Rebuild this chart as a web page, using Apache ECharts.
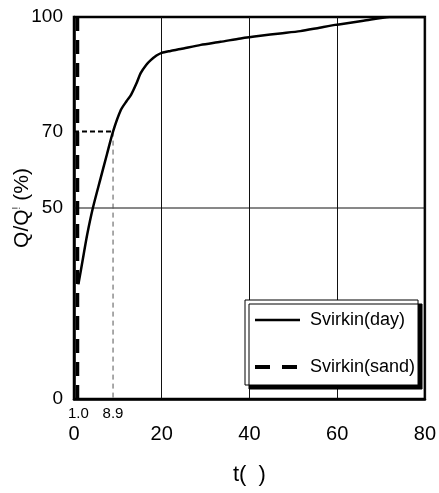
<!DOCTYPE html>
<html>
<head>
<meta charset="utf-8">
<script src="https://cdn.jsdelivr.net/npm/echarts@6/dist/echarts.min.js"></script>
<style>html,body{margin:0;padding:0;background:#fff;}#c{width:439px;height:493px;}</style>
</head>
<body>
<div id="c"></div>
<script>
// ---- data ----
const dayT = [1.0, 2.0, 3.0, 4.3, 6.0, 7.5, 8.9, 10.7, 12.0, 13.0, 14.2, 15.2, 16.5, 17.5, 18.8, 20, 22, 24.3, 28.9, 33.4, 38, 42.5, 47, 51.6, 56, 60, 66, 72, 80];
const dayQ = [30, 36.5, 43, 50, 57.5, 64, 70, 75.7, 78, 79.6, 82.5, 85.3, 87.5, 88.7, 89.9, 90.6, 91.1, 91.6, 92.7, 93.5, 94.4, 95.1, 95.7, 96.3, 97.2, 98.0, 99.0, 100, 100];
const sandT = [0.8, 0.8];
const sandQ = [0, 100];
const markT = 8.9;
const markQ = 70;
const xTicks = [0, 20, 40, 60, 80];
const xExtraTicks = [1.0, 8.9];
const yTicks = [0, 50, 70, 100];
const gridY = 50;
const seriesNames = ['Svirkin(day)', 'Svirkin(sand)'];

const FONT = 'Liberation Sans, Arial, sans-serif';
const zip = (a, b) => a.map((v, i) => [v, b[i]]);

const chart = echarts.init(document.getElementById('c'), null, {renderer: 'canvas'});
chart.setOption({
  backgroundColor: '#fff',
  animation: false,
  grid: {left: 74, right: 14, top: 17, bottom: 94, show: true, borderColor: '#000', borderWidth: 2.5, backgroundColor: 'transparent'},
  legend: {
    data: [
      {name: seriesNames[0], lineStyle: {width: 2.5, type: 'solid'}},
      {name: seriesNames[1], lineStyle: {width: 4, type: [15, 12]}}
    ],
    orient: 'vertical',
    left: 245, top: 300,
    itemWidth: 45, itemHeight: 18, itemGap: 29,
    padding: [11, 3, 9, 8],
    backgroundColor: '#fff', borderColor: '#000', borderWidth: 1,
    shadowColor: '#000', shadowBlur: 0, shadowOffsetX: 4, shadowOffsetY: 4,
    itemStyle: {opacity: 0, borderWidth: 0},
    textStyle: {fontFamily: FONT, fontSize: 18, color: '#000', padding: [0, 0, 0, 5]}
  },
  xAxis: [{
    type: 'value', min: 0, max: 80, interval: 20,
    axisLine: {show: true, lineStyle: {color: '#000', width: 2.5}},
    axisTick: {show: false},
    splitLine: {show: true, lineStyle: {color: '#111', width: 1}},
    axisLabel: {customValues: xTicks, margin: 25, fontFamily: FONT, fontSize: 20, color: '#000'},
    name: 't(  )', nameLocation: 'middle', nameGap: 65, nameMoveOverlap: false,
    nameTextStyle: {fontFamily: FONT, fontSize: 22, color: '#000'}
  }, {
    type: 'value', min: 0, max: 80, position: 'bottom',
    axisLine: {show: false}, axisTick: {show: false}, splitLine: {show: false},
    axisLabel: {customValues: xExtraTicks, margin: 7, fontFamily: FONT, fontSize: 15, color: '#000',
      formatter: v => v.toFixed(1)}
  }],
  yAxis: {
    type: 'value', min: 0, max: 100, interval: 10,
    axisLine: {show: true, lineStyle: {color: '#000', width: 2.5}},
    axisTick: {show: false},
    splitLine: {show: false},
    axisLabel: {customValues: yTicks, margin: 11, fontFamily: FONT, fontSize: 19, color: '#000'},
    name: '{a|Q/Q}{s|!}{a| (%)}', nameLocation: 'middle', nameGap: 41, nameMoveOverlap: false,
    nameTextStyle: {fontFamily: FONT, fontSize: 21, color: '#000',
      rich: {a: {fontFamily: FONT, fontSize: 21, color: '#000'}, s: {fontFamily: FONT, fontSize: 10, color: '#000', verticalAlign: 'top'}}}
  },
  series: [{
    name: seriesNames[0], type: 'line', xAxisIndex: 0,
    data: zip(dayT, dayQ), symbol: 'none', smooth: 0.25,
    lineStyle: {color: '#000', width: 2.5},
    itemStyle: {color: '#000'},
    z: 5
  }, {
    name: seriesNames[1], type: 'line', xAxisIndex: 0,
    data: zip(sandT, sandQ), symbol: 'none',
    lineStyle: {color: '#000', width: 3.5, type: [14, 9]},
    itemStyle: {color: '#000'},
    z: 4
  }, {
    name: 'guideH', type: 'line', xAxisIndex: 0,
    data: [[0, markQ], [markT, markQ]], symbol: 'none',
    lineStyle: {color: '#000', width: 2, type: [5, 3]}, z: 3
  }, {
    name: 'guideV', type: 'line', xAxisIndex: 0,
    data: [[markT, markQ], [markT, 0]], symbol: 'none',
    lineStyle: {color: '#555', width: 1, type: [5, 4]}, z: 3
  }, {
    name: 'grid50', type: 'line', xAxisIndex: 0,
    data: [[0, gridY], [80, gridY]], symbol: 'none',
    lineStyle: {color: '#111', width: 1}, z: 1
  }]
});
</script>
</body>
</html>
